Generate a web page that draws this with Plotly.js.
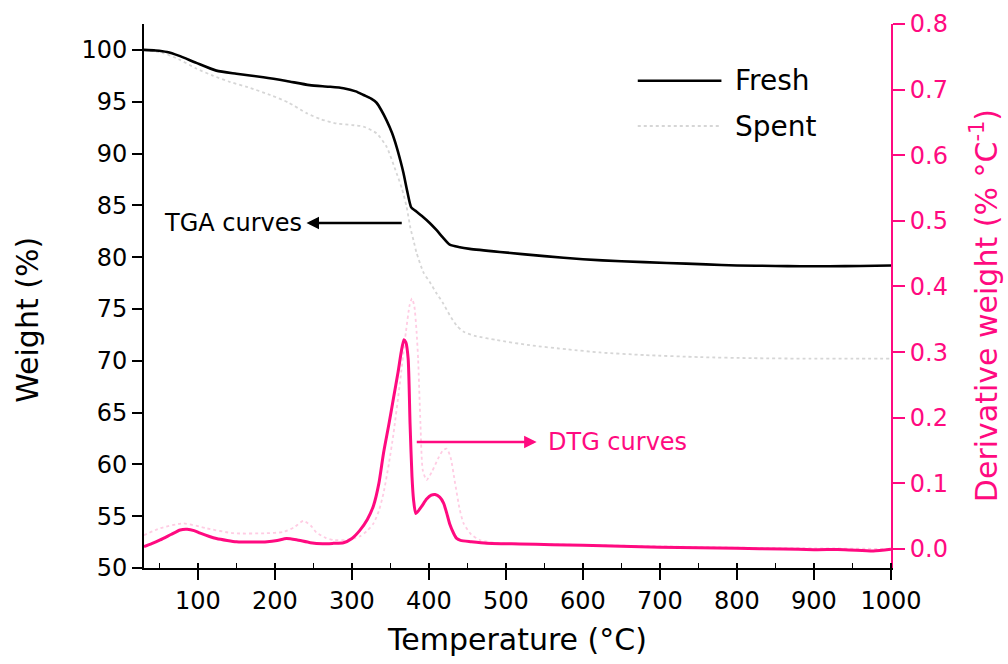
<!DOCTYPE html>
<html>
<head>
<meta charset="utf-8">
<script src="https://cdn.plot.ly/plotly-3.0.1.min.js"></script>
<style>
  html, body { margin: 0; padding: 0; background: #fff; }
  #chart { width: 1008px; height: 664px; }
</style>
</head>
<body>
<div id="chart"></div>
<script>
// Thermogravimetric analysis: weight loss (TGA) and derivative weight (DTG)
// for fresh and spent samples, 30–1000 °C.

const tgaFreshT = [30, 45, 60, 75, 98, 124, 150, 185, 215, 245, 270, 289, 305, 315, 325, 332, 338, 345, 352, 358, 363, 367, 372, 377, 382, 392, 401, 410, 418, 427, 440, 453, 492, 550, 600, 650, 709, 760, 800, 850, 882, 920, 960, 1000];
const tgaFreshW = [100, 99.95, 99.8, 99.45, 98.75, 98.0, 97.7, 97.36, 97.0, 96.6, 96.45, 96.3, 96.0, 95.65, 95.3, 94.9, 94.2, 93.2, 92.0, 90.65, 89.3, 88.1, 86.3, 84.8, 84.5, 83.9, 83.3, 82.6, 81.9, 81.2, 80.95, 80.8, 80.5, 80.1, 79.8, 79.6, 79.44, 79.3, 79.2, 79.15, 79.12, 79.12, 79.15, 79.2];

const tgaSpentT = [30, 55, 75, 98, 120, 142, 165, 194, 218, 241, 260, 280, 300, 315, 332, 345, 358, 365, 371, 376, 380, 384, 393, 401, 410, 418, 427, 436, 445, 460, 488, 531, 580, 622, 680, 752, 820, 895, 950, 1000];
const tgaSpentW = [100, 99.7, 99.1, 98.2, 97.5, 96.9, 96.4, 95.65, 94.9, 93.9, 93.3, 92.9, 92.75, 92.6, 91.95, 90.65, 88.1, 86.6, 84.85, 82.8, 81.6, 80.4, 78.5, 77.6, 76.5, 75.6, 74.4, 73.4, 72.8, 72.4, 72.0, 71.5, 71.1, 70.8, 70.55, 70.35, 70.25, 70.2, 70.2, 70.2];

const dtgFreshT = [30, 40, 51, 65, 77, 86, 95, 103, 115, 124, 138, 150, 170, 190, 203, 215, 228, 246, 262, 276, 289, 300, 310, 320, 328, 335, 341, 348, 354, 360, 364, 367.5, 370, 373, 375.5, 378, 380, 383, 390, 397, 403, 408, 414, 419, 423, 427, 432, 436, 441, 455, 475, 518, 560, 600, 650, 700, 750, 800, 860, 900, 940, 977, 1000];
const dtgFreshD = [0.0035, 0.008, 0.0137, 0.022, 0.029, 0.030, 0.028, 0.024, 0.019, 0.016, 0.013, 0.011, 0.0105, 0.011, 0.013, 0.016, 0.014, 0.0096, 0.008, 0.0086, 0.0095, 0.016, 0.028, 0.045, 0.066, 0.10, 0.146, 0.19, 0.23, 0.27, 0.30, 0.319, 0.315, 0.29, 0.19, 0.11, 0.075, 0.054, 0.064, 0.076, 0.082, 0.083, 0.079, 0.07, 0.055, 0.038, 0.024, 0.016, 0.013, 0.011, 0.0087, 0.0076, 0.0065, 0.0055, 0.004, 0.0026, 0.002, 0.001, 0.0, -0.001, -0.001, -0.003, -0.0005];

const dtgSpentT = [30, 51, 81, 111, 146, 189, 211, 225, 237, 247, 254, 266, 276, 293, 310, 320, 328, 335, 341, 348, 354, 362, 370, 375, 378, 381, 384, 386, 389, 392, 397, 404, 412, 418, 423, 428, 434, 440, 445, 455, 466, 492, 550, 600, 700, 800, 900, 1000];
const dtgSpentD = [0.021, 0.0315, 0.039, 0.0315, 0.024, 0.024, 0.026, 0.033, 0.043, 0.035, 0.025, 0.017, 0.0137, 0.0137, 0.019, 0.028, 0.039, 0.058, 0.085, 0.13, 0.176, 0.25, 0.33, 0.372, 0.382, 0.37, 0.33, 0.288, 0.19, 0.12, 0.105, 0.118, 0.138, 0.15, 0.153, 0.14, 0.10, 0.06, 0.039, 0.022, 0.0137, 0.0087, 0.0075, 0.006, 0.004, 0.002, 0.001, 0.0];

const seriesNames = ['Fresh', 'Spent'];

const PINK = '#ff0a80';
const SPENT_GRAY = '#d6d6d6';
const SPENT_PINK = '#ffcce3';
const FONT = 'DejaVu Sans, sans-serif';

const traces = [
  { x: tgaSpentT, y: tgaSpentW, yaxis: 'y', mode: 'lines', name: seriesNames[1],
    line: { color: SPENT_GRAY, width: 1.8, dash: 'dot', shape: 'spline', smoothing: 0.6 }, showlegend: false },
  { x: dtgSpentT, y: dtgSpentD, yaxis: 'y2', mode: 'lines', name: seriesNames[1] + ' DTG',
    line: { color: SPENT_PINK, width: 1.8, dash: 'dot', shape: 'spline', smoothing: 0.6 }, showlegend: false },
  { x: tgaFreshT, y: tgaFreshW, yaxis: 'y', mode: 'lines', name: seriesNames[0],
    line: { color: '#000000', width: 2.6, shape: 'spline', smoothing: 0.6 }, showlegend: false },
  { x: dtgFreshT, y: dtgFreshD, yaxis: 'y2', mode: 'lines', name: seriesNames[0] + ' DTG',
    line: { color: PINK, width: 3, shape: 'spline', smoothing: 0.6 }, showlegend: false }
];

const layout = {
  width: 1008, height: 664,
  margin: { l: 144, r: 117, t: 24, b: 96 },
  paper_bgcolor: '#ffffff', plot_bgcolor: '#ffffff',
  font: { family: FONT, size: 24, color: '#000' },
  showlegend: false,
  xaxis: {
    range: [30, 1000], tick0: 0, dtick: 100,
    showgrid: false, zeroline: false,
    showline: true, linecolor: '#000', linewidth: 2,
    ticks: 'outside', ticklen: 10, tickwidth: 2, tickcolor: '#000',
    minor: { ticks: 'inside', dtick: 50, tick0: 0, ticklen: 5, tickwidth: 1.5, tickcolor: '#000' },
    tickfont: { family: FONT, size: 24, color: '#000' },
    title: { text: 'Temperature (°C)', font: { family: FONT, size: 30, color: '#000' }, standoff: 15 }
  },
  xaxis2: {
    overlaying: 'x', side: 'top', anchor: 'y', matches: 'x',
    range: [30, 1000], tick0: 0, dtick: 50,
    showgrid: false, zeroline: false, showticklabels: false,
    showline: true, linecolor: '#000', linewidth: 2,
    ticks: 'inside', ticklen: 5, tickwidth: 1.5, tickcolor: '#000'
  },
  yaxis: {
    range: [50, 102.5], tick0: 50, dtick: 5,
    showgrid: false, zeroline: false,
    showline: true, linecolor: '#000', linewidth: 2,
    ticks: 'outside', ticklen: 10, tickwidth: 2, tickcolor: '#000',
    tickfont: { family: FONT, size: 24, color: '#000' },
    // trailing spaces lower the rotated title a little along the axis
    title: { text: 'Weight (%)&nbsp;&nbsp;&nbsp;&nbsp;&nbsp;', font: { family: FONT, size: 30, color: '#000' }, standoff: 34 }
  },
  yaxis2: {
    overlaying: 'y', side: 'right', anchor: 'x',
    range: [-0.029, 0.8], tick0: 0, dtick: 0.1, tickformat: '.1f',
    showgrid: false, zeroline: false,
    showline: true, linecolor: PINK, linewidth: 2,
    ticks: 'outside', ticklen: 12, tickwidth: 2, tickcolor: PINK,
    tickfont: { family: FONT, size: 24, color: PINK },
    title: { text: 'Derivative weight (% °C<sup>-1</sup>)&nbsp;&nbsp;', font: { family: FONT, size: 30, color: PINK }, standoff: 29 }
  },
  shapes: [
    // legend keys
    { type: 'line', xref: 'paper', yref: 'paper', x0: 0.661, x1: 0.773, y0: 0.8958, y1: 0.8958,
      line: { color: '#000', width: 2.6 } },
    { type: 'line', xref: 'paper', yref: 'paper', x0: 0.661, x1: 0.773, y0: 0.8125, y1: 0.8125,
      line: { color: SPENT_GRAY, width: 1.8, dash: 'dot' } }
  ],
  annotations: [
    // legend labels
    { xref: 'paper', yref: 'paper', x: 0.7885, y: 0.8958, xanchor: 'left', yanchor: 'middle',
      text: seriesNames[0], showarrow: false, font: { family: FONT, size: 28, color: '#000' } },
    { xref: 'paper', yref: 'paper', x: 0.7885, y: 0.8125, xanchor: 'left', yanchor: 'middle',
      text: seriesNames[1], showarrow: false, font: { family: FONT, size: 28, color: '#000' } },
    // curve group labels; the arrow head sits next to the label
    { xref: 'x', yref: 'y', x: 364.7, y: 83.3, axref: 'x', ayref: 'y', ax: 145.6, ay: 83.3,
      text: 'TGA curves', showarrow: true, arrowside: 'start', startarrowhead: 2, startarrowsize: 1,
      arrowwidth: 2.5, arrowcolor: '#000', startstandoff: 3,
      font: { family: FONT, size: 24, color: '#000' } },
    { xref: 'x', yref: 'y2', x: 384.2, y: 0.163, axref: 'x', ayref: 'y2', ax: 645, ay: 0.163,
      text: 'DTG curves', showarrow: true, arrowside: 'start', startarrowhead: 2, startarrowsize: 1,
      arrowwidth: 2.5, arrowcolor: PINK, startstandoff: 10,
      font: { family: FONT, size: 24, color: PINK } }
  ]
};

Plotly.newPlot('chart', traces, layout, { displayModeBar: false, staticPlot: true });
</script>
</body>
</html>
